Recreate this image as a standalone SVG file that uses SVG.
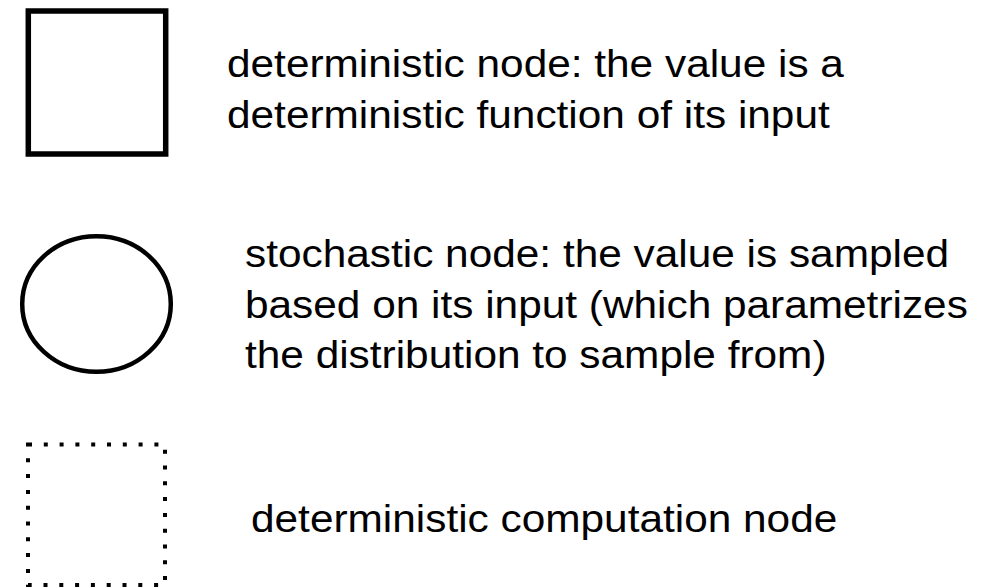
<svg xmlns="http://www.w3.org/2000/svg" width="1007" height="588" viewBox="0 0 1007 588">
  <style>
    .shape { fill: #ffffff; stroke: #000000; }
    .label { font-family: "Liberation Sans", Arial, Helvetica, sans-serif; font-size: 38px; fill: #000000; }
  </style>
  <rect width="1007" height="588" fill="#ffffff"/>

  <!-- deterministic node: solid square -->
  <g id="deterministic-node">
    <rect class="shape" x="28.3" y="11" width="137.4" height="143" stroke-width="5.5"/>
    <g transform="translate(227,0) scale(1.115,1)">
      <text class="label" x="0" y="77.5">deterministic node: the value is a</text>
      <text class="label" x="0" y="128.5">deterministic function of its input</text>
    </g>
  </g>

  <!-- stochastic node: circle -->
  <g id="stochastic-node">
    <ellipse class="shape" cx="96.5" cy="304" rx="74.3" ry="67.8" stroke-width="4.5"/>
    <g transform="translate(245,0) scale(1.115,1)">
      <text class="label" x="0" y="267">stochastic node: the value is sampled</text>
      <text class="label" x="0" y="318">based on its input (which parametrizes</text>
      <text class="label" x="0" y="368.5">the distribution to sample from)</text>
    </g>
  </g>

  <!-- deterministic computation node: dotted square -->
  <g id="computation-node">
    <rect class="shape" x="28" y="444.5" width="137" height="140.5" stroke-width="4" stroke-dasharray="4 11.8"/>
    <g transform="translate(251,0) scale(1.115,1)">
      <text class="label" x="0" y="532">deterministic computation node</text>
    </g>
  </g>
</svg>
